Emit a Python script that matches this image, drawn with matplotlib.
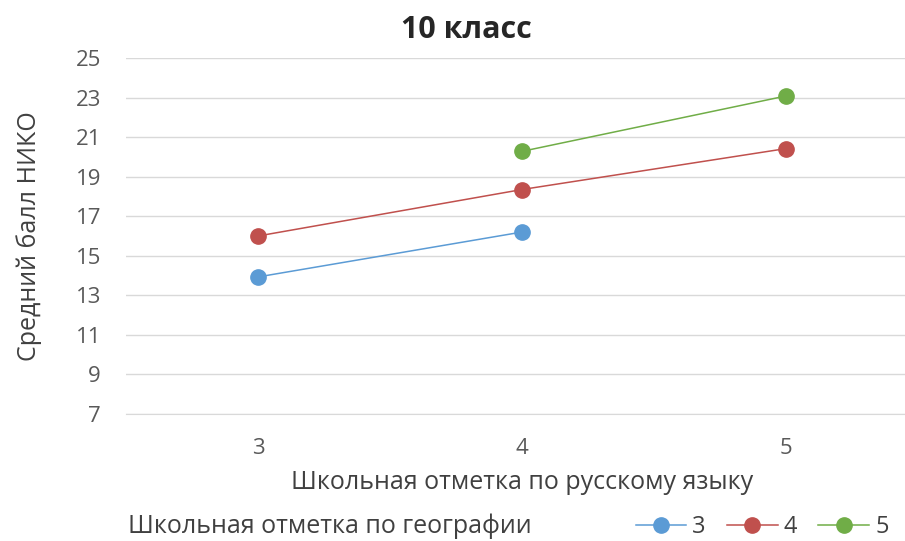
import matplotlib.pyplot as plt
import numpy as np

plt.rcParams['font.family'] = ['Open Sans', 'DejaVu Sans']

# данные
grades = ['3', '4', '5']
geo_3 = [13.93, 16.2, np.nan]
geo_4 = [16.0, 18.35, 20.42]
geo_5 = [np.nan, 20.28, 23.08]
series = [('3', geo_3, '#5b9bd5'), ('4', geo_4, '#c0504d'), ('5', geo_5, '#70ad47')]
yticks = [7, 9, 11, 13, 15, 17, 19, 21, 23, 25]

fig = plt.figure(figsize=(9.05, 5.41), dpi=100)
ax = fig.add_axes([126 / 905, 1 - 414 / 541, 792 / 905, 356 / 541])

x = np.arange(len(grades))
for name, vals, col in series:
    ax.plot(x, vals, color=col, lw=1.1, marker='o', markersize=11, label=name)

ax.set_xlim(-0.5, 2.5)
ax.set_ylim(7, 25)
ax.set_yticks(yticks)
ax.set_xticks(x)
ax.set_xticklabels(grades)
ax.grid(axis='y', color='#d9d9d9', lw=1)
ax.set_axisbelow(True)
for s in ['top', 'right', 'left']:
    ax.spines[s].set_visible(False)
ax.spines['bottom'].set_color('#d9d9d9')
ax.tick_params(axis='both', length=0, labelsize=16, colors='#595959')
ax.tick_params(axis='x', pad=17)
ax.tick_params(axis='y', pad=18)

ax.set_xlabel('Школьная отметка по русскому языку', fontsize=18, color='#404040', labelpad=8)
ax.set_ylabel('Средний балл НИКО', fontsize=18, color='#404040', labelpad=24)
fig.text(0.515, 1 - 30 / 541, '10 класс', ha='center', va='center', fontsize=22, fontweight='bold',
         color='#262626')

# подпись легенды слева, сама легенда справа
fig.text(128 / 905, 1 - 526 / 541, 'Школьная отметка по географии', fontsize=18, color='#404040',
         va='center')
ax.legend(loc='center', bbox_to_anchor=(762 / 905, 1 - 527 / 541), bbox_transform=fig.transFigure,
          ncol=3, frameon=False, fontsize=17, labelcolor='#404040', handlelength=2.15,
          columnspacing=0.9, handletextpad=0.25, borderpad=0)

fig.savefig('out.png', dpi=100)
